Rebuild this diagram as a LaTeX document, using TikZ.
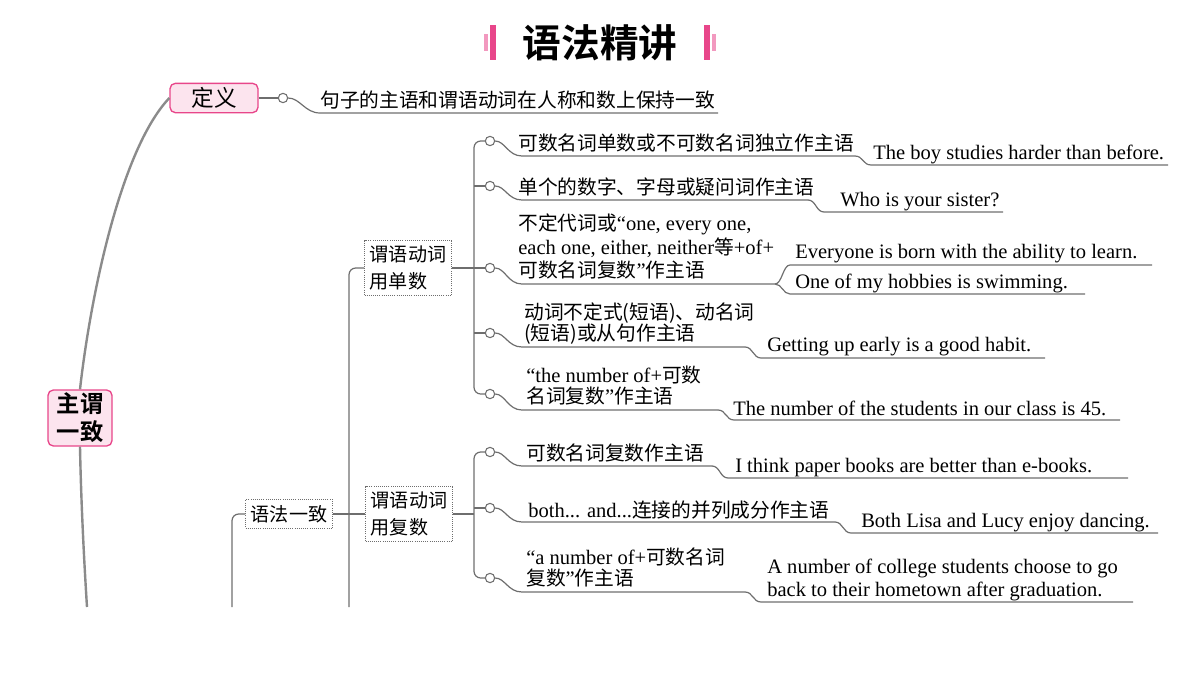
\documentclass[tikz,border=0pt]{standalone}
\usepackage{fontspec}
\setmainfont{Liberation Serif}
\newfontfamily\cjk{Noto Sans CJK SC}
\newfontfamily\cjkb{Noto Sans CJK SC Bold}
\newcommand{\zh}[1]{{\cjk\fontsize{14.8}{17}\selectfont #1}}
\definecolor{ln}{HTML}{6E6E6E}
\definecolor{pk}{HTML}{E8468A}
\definecolor{pkl}{HTML}{FCE4EE}
\begin{document}
\begin{tikzpicture}[x=0.75pt,y=-0.75pt,
  wire/.style={draw=ln,line width=0.9pt},
  dot/.style={circle,draw=ln,fill=white,line width=0.8pt,inner sep=0pt,minimum size=7pt},
  txt/.style={anchor=base west,inner sep=0pt,font=\fontsize{15.4}{17}\selectfont},
  dbox/.style={draw=ln,densely dotted,line width=0.6pt,inner sep=4pt,align=left,font=\cjk\fontsize{14.3}{20}\selectfont},
  pbox/.style={fill=pkl,draw=pk,line width=1pt,rounded corners=4pt,inner sep=0pt}]
\useasboundingbox (0,0) rectangle (1200,675);
% title
\fill[pk!55] (484,34) rectangle (488,51);
\fill[pk] (490,25) rectangle (496,60);
\fill[pk] (704,25) rectangle (710,60);
\fill[pk!55] (712,34) rectangle (716,51);
\node[inner sep=0pt,font=\cjkb\fontsize{29}{32}\selectfont] (title) at (600,43) {语法精讲};
% 定义
\node[pbox,minimum width=66pt,minimum height=22pt,font=\cjk\fontsize{17}{18}\selectfont] (def) at (214,98) {定义};
\node[dot] (d0) at (283,98) {};
\draw[wire] (def.east) -- (d0);
\coordinate (d1) at (718,113);
\draw[wire] (d0.east) .. controls (300,98) and (305,113) .. (320,113) -- (d1);
\node[txt] at (320,107) {\zh{句子的主语和谓语动词在人称和数上保持一致}};
% root
\node[pbox,minimum width=48pt,minimum height=42pt,align=center,font=\cjkb\fontsize{17.5}{21}\selectfont] (root) at (80,418) {主谓\\一致};
\draw[draw=ln!80,line width=1.8pt] (def.west) .. controls (120,150) and (90,300) .. (root.north);
\coordinate (rb) at (87,607);
\draw[draw=ln!80,line width=1.8pt] (root.south) .. controls (81,500) and (84,560) .. (rb);
% 语法一致
\node[dbox] (gy) at (289,514) {语法一致};
\coordinate (gyb) at (232,607);
\draw[wire,rounded corners=5pt] (gy.west) -- (232,514) -- (gyb);
\node[dbox] (sg) at (408,268) {谓语动词\\用单数};
\node[dbox] (pl) at (409,514) {谓语动词\\用复数};
\coordinate (vb) at (349,607);
\draw[wire] (gy.east) -- (pl.west);
\draw[wire,rounded corners=5pt] (sg.west) -- (349,268) -- (vb);
% branches
\draw[wire] (sg.east) -- (474,268);
\draw[wire,rounded corners=5pt] (486,141) -- (474,141) -- (474,394) -- (486,394);
\draw[wire] (474,186) -- (486,186);
\draw[wire] (474,268) -- (486,268);
\draw[wire] (474,333) -- (486,333);
\draw[wire] (pl.east) -- (474,514);
\draw[wire,rounded corners=5pt] (486,452) -- (474,452) -- (474,578) -- (486,578);
\draw[wire] (474,508) -- (486,508);
\foreach \n/\cy/\uy/\ex in {a/141/156/855, b/186/200/808, c/268/284/775, e/333/347/745, f/394/410/718, g/452/466/712, h/508/522/835, i/578/592/745}{
  \node[dot] (\n) at (490,\cy) {};
  \draw[wire] (\n.east) .. controls (505,\cy) and (508,\uy) .. (522,\uy) -- (\ex,\uy);
}
% texts
\node[txt] at (518,150) {\zh{可数名词单数或不可数名词独立作主语}};
\node[txt] at (518,194) {\zh{单个的数字、字母或疑问词作主语}};
\node[txt] at (518,230) {\zh{不定代词或}“one, every one,};
\node[txt] at (518,254) {each one, either, neither\zh{等}+of+};
\node[txt] at (518,277) {\zh{可数名词复数}”\zh{作主语}};
\node[txt] at (524,319) {\zh{动词不定式(短语)、动名词}};
\node[txt] at (524,340) {\zh{(短语)或从句作主语}};
\node[txt] at (526,382) {“the number of+\zh{可数}};
\node[txt] at (526,403) {\zh{名词复数}”\zh{作主语}};
\node[txt] at (526,460) {\zh{可数名词复数作主语}};
\node[txt] at (528,517) {both... and...\zh{连接的并列成分作主语}};
\node[txt] at (526,564) {“a number of+\zh{可数名词}};
\node[txt] at (526,585) {\zh{复数}”\zh{作主语}};
% examples
\foreach \sx/\sy/\ty/\ex in {855/156/165/1168, 808/200/212/1003, 745/347/358/1045, 718/410/420/1120, 712/466/478/1128, 835/522/533/1158, 745/592/602/1133}{
  \draw[wire] (\sx,\sy) .. controls (\sx+8,\sy) and (\sx+8,\ty) .. (\sx+16,\ty) -- (\ex,\ty);
}
\draw[wire] (775,284) .. controls (782,284) and (783,265) .. (790,265) -- (1152,265);
\draw[wire] (775,284) .. controls (782,284) and (783,294) .. (790,294) -- (1085,294);
\node[txt] at (873,159) {The boy studies harder than before.};
\node[txt] at (840,206) {Who is your sister?};
\node[txt] at (795,258) {Everyone is born with the ability to learn.};
\node[txt] at (795,288) {One of my hobbies is swimming.};
\node[txt] at (767,351) {Getting up early is a good habit.};
\node[txt] at (733,415) {The number of the students in our class is 45.};
\node[txt] at (735,472) {I think paper books are better than e-books.};
\node[txt] at (861,527) {Both Lisa and Lucy enjoy dancing.};
\node[txt] at (767,573) {A number of college students choose to go};
\node[txt] at (767,596) {back to their hometown after graduation.};
\end{tikzpicture}
\end{document}
